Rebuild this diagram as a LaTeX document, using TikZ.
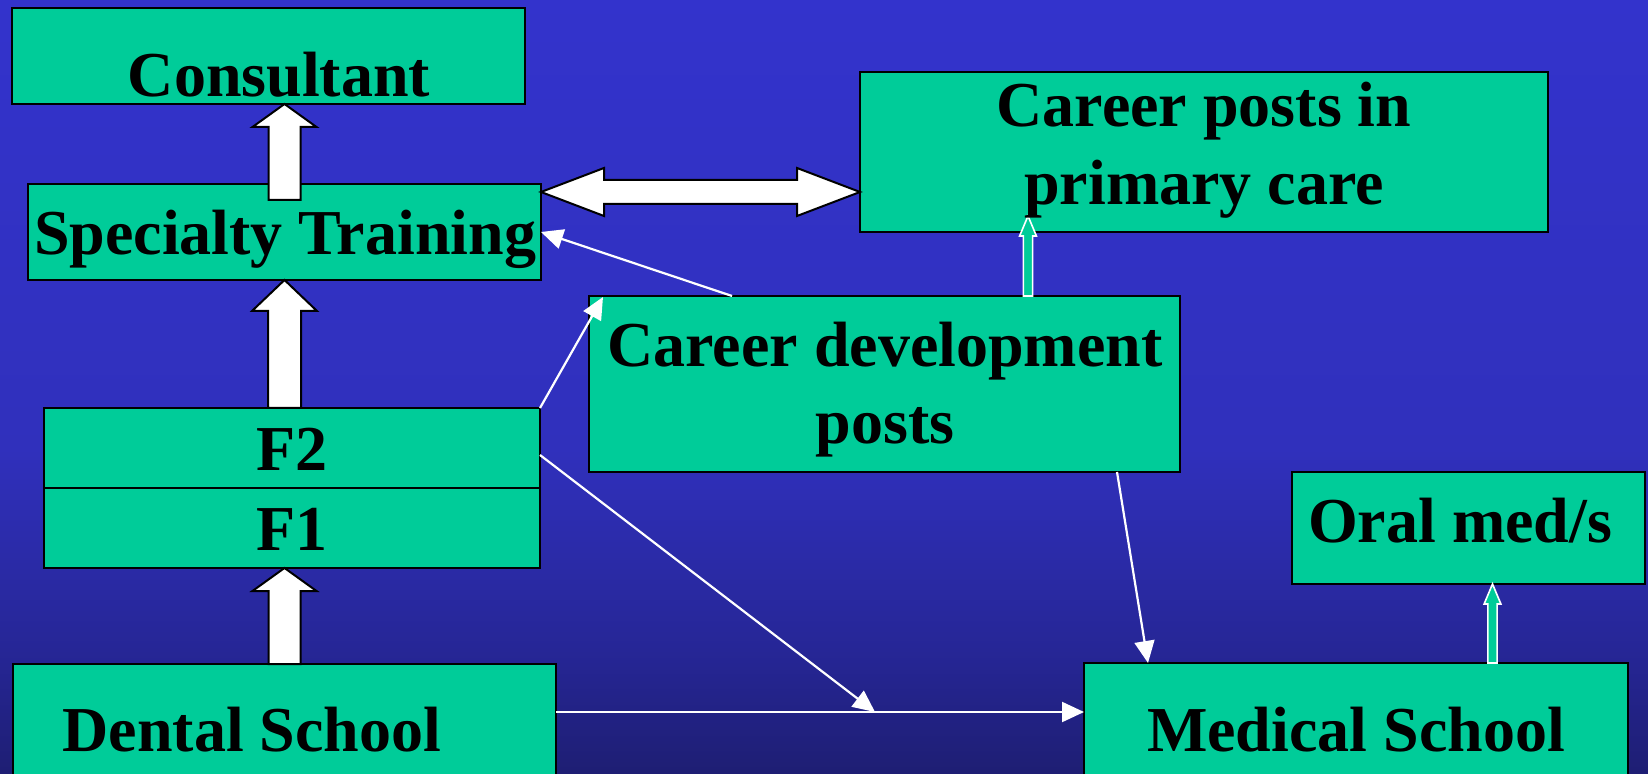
\documentclass[tikz,border=0pt]{standalone}
\usepackage{fontspec}
\setmainfont{Liberation Serif}
\usetikzlibrary{arrows.meta,calc}
\definecolor{boxgreen}{RGB}{0,204,153}
\definecolor{bgtop}{RGB}{51,51,204}
\definecolor{bgmid}{RGB}{48,48,188}
\definecolor{bglow}{RGB}{38,38,150}
\definecolor{bgbot}{RGB}{30,30,115}
\pgfdeclareverticalshading{bgshade}{100bp}{color(0bp)=(bgbot); color(25bp)=(bgbot); color(33bp)=(bglow); color(46bp)=(bgmid); color(75bp)=(bgtop); color(100bp)=(bgtop)}
% vertical block arrow: #1 style, #2 bottom coord, #3 tip coord, #4 shaft half width, #5 head half width, #6 head length
\newcommand\upblock[6]{%
  \filldraw[#1] let \p1=#2, \p2=#3 in
    (\x2-#4,\y1) -- (\x2-#4,\y2-#6) -- (\x2-#5,\y2-#6) -- (\x2,\y2)
    -- (\x2+#5,\y2-#6) -- (\x2+#4,\y2-#6) -- (\x2+#4,\y1) -- cycle;}
\begin{document}
\begin{tikzpicture}[x=0.5pt,y=-0.5pt,
  box/.style={draw=black, line width=1.1pt, fill=boxgreen, inner sep=0pt, outer sep=0pt},
  lbl/.style={font=\fontsize{32}{36}\selectfont\bfseries, anchor=base, inner sep=0pt, text=black},
  thinarr/.style={draw=white, line width=1.1pt, -{Triangle[length=11pt,width=10pt]}},
  blockw/.style={fill=white, draw=black, line width=1pt, line join=miter},
  blockg/.style={fill=boxgreen, draw=white, line width=0.8pt, line join=miter}]
\useasboundingbox (0,0) rectangle (1648,774);
\clip (0,0) rectangle (1648,774);
\shade[shading=bgshade] (0,0) rectangle (1648,774);

% boxes
\node[box, minimum width=256.5pt, minimum height=48pt] (cons) at (268.5,56) {};
\node[box, minimum width=256.5pt, minimum height=48pt] (spec) at (284.5,232) {};
\node[box, minimum width=344pt, minimum height=80pt] (cpp) at (1204,152) {};
\node[box, minimum width=295.5pt, minimum height=88pt] (cdp) at (884.5,384) {};
\node[box, minimum width=248pt, minimum height=40pt] (f2) at (292,448) {};
\node[box, minimum width=248pt, minimum height=40pt] (f1) at (292,528) {};
\node[box, minimum width=176.5pt, minimum height=56pt] (oral) at (1468.5,528) {};
\node[box, minimum width=271.5pt, minimum height=78pt] (dental) at (284.5,742) {};
\node[box, minimum width=272pt, minimum height=78.5pt] (med) at (1356,741.5) {};

% block arrows
\upblock{blockw}{($(spec.north)+(0,16)$)}{(spec.north |- cons.south)}{8pt}{16pt}{11.5pt}
\upblock{blockw}{(spec.south |- f2.north)}{(spec.south)}{8.25pt}{16.25pt}{15.5pt}
\upblock{blockw}{(dental.north)}{(dental.north |- f1.south)}{8pt}{16pt}{11.5pt}

\coordinate (dl) at ($(spec.north east)+(0,8)$);
\coordinate (dr) at (dl -| cpp.west);
\filldraw[blockw] let \p1=(dl), \p2=(dr) in
  (\x1,\y1) -- (\x1+31.5pt,\y1+12pt) -- (\x1+31.5pt,\y1+6pt) -- (\x2-31.5pt,\y1+6pt)
  -- (\x2-31.5pt,\y1+12pt) -- (\x2,\y1) -- (\x2-31.5pt,\y1-12pt) -- (\x2-31.5pt,\y1-6pt)
  -- (\x1+31.5pt,\y1-6pt) -- (\x1+31.5pt,\y1-12pt) -- cycle;

% green arrows
\coordinate (g1bot) at ($(cdp.north west)+(439,0)$);
\coordinate (g1tip) at ($(cpp.south west)+(168,-16)$);
\upblock{blockg}{(g1bot)}{(g1tip)}{2.3pt}{4.2pt}{10pt}
\coordinate (g2tip) at ($(oral.south)+(24,0)$);
\coordinate (g2bot) at (g2tip |- med.north);
\upblock{blockg}{(g2bot)}{(g2tip)}{2.3pt}{4.2pt}{10pt}

% thin arrows
\coordinate (dstart) at ($(dental.north east)+(0,48)$);
\coordinate (hmid) at ($(dstart)+(319,0)$);
\draw[thinarr] ($(cdp.north west)+(143,0)$) -- (spec.east);
\draw[thinarr] (f2.north east) -- ($(cdp.north west)+(14,1)$);
\draw[thinarr] ($(f2.east)+(0,7)$) -- (hmid);
\draw[thinarr] (dstart) -- (dstart -| med.west);
\draw[thinarr] ($(cdp.south west)+(528,0)$) -- ($(med.north west)+(64,0)$);

% labels
\node[lbl] (tcons) at (279,97) {Consultant};
\node[lbl] (tspec) at (285,255) {Specialty Training};
\node[lbl] (tcpp1) at (1204,127) {Career posts in};
\node[lbl] (tcpp2) at (1204,205) {primary care};
\node[lbl] (tcdp1) at (885,367) {Career development};
\node[lbl] (tcdp2) at (885,444) {posts};
\node[lbl] (tf2) at (292,471) {F2};
\node[lbl] (tf1) at (292,551) {F1};
\node[lbl] (toral) at (1460,543) {Oral med/s};
\node[lbl] (tdental) at (252,751) {Dental School};
\node[lbl] (tmed) at (1356,751) {Medical School};
\end{tikzpicture}
\end{document}
